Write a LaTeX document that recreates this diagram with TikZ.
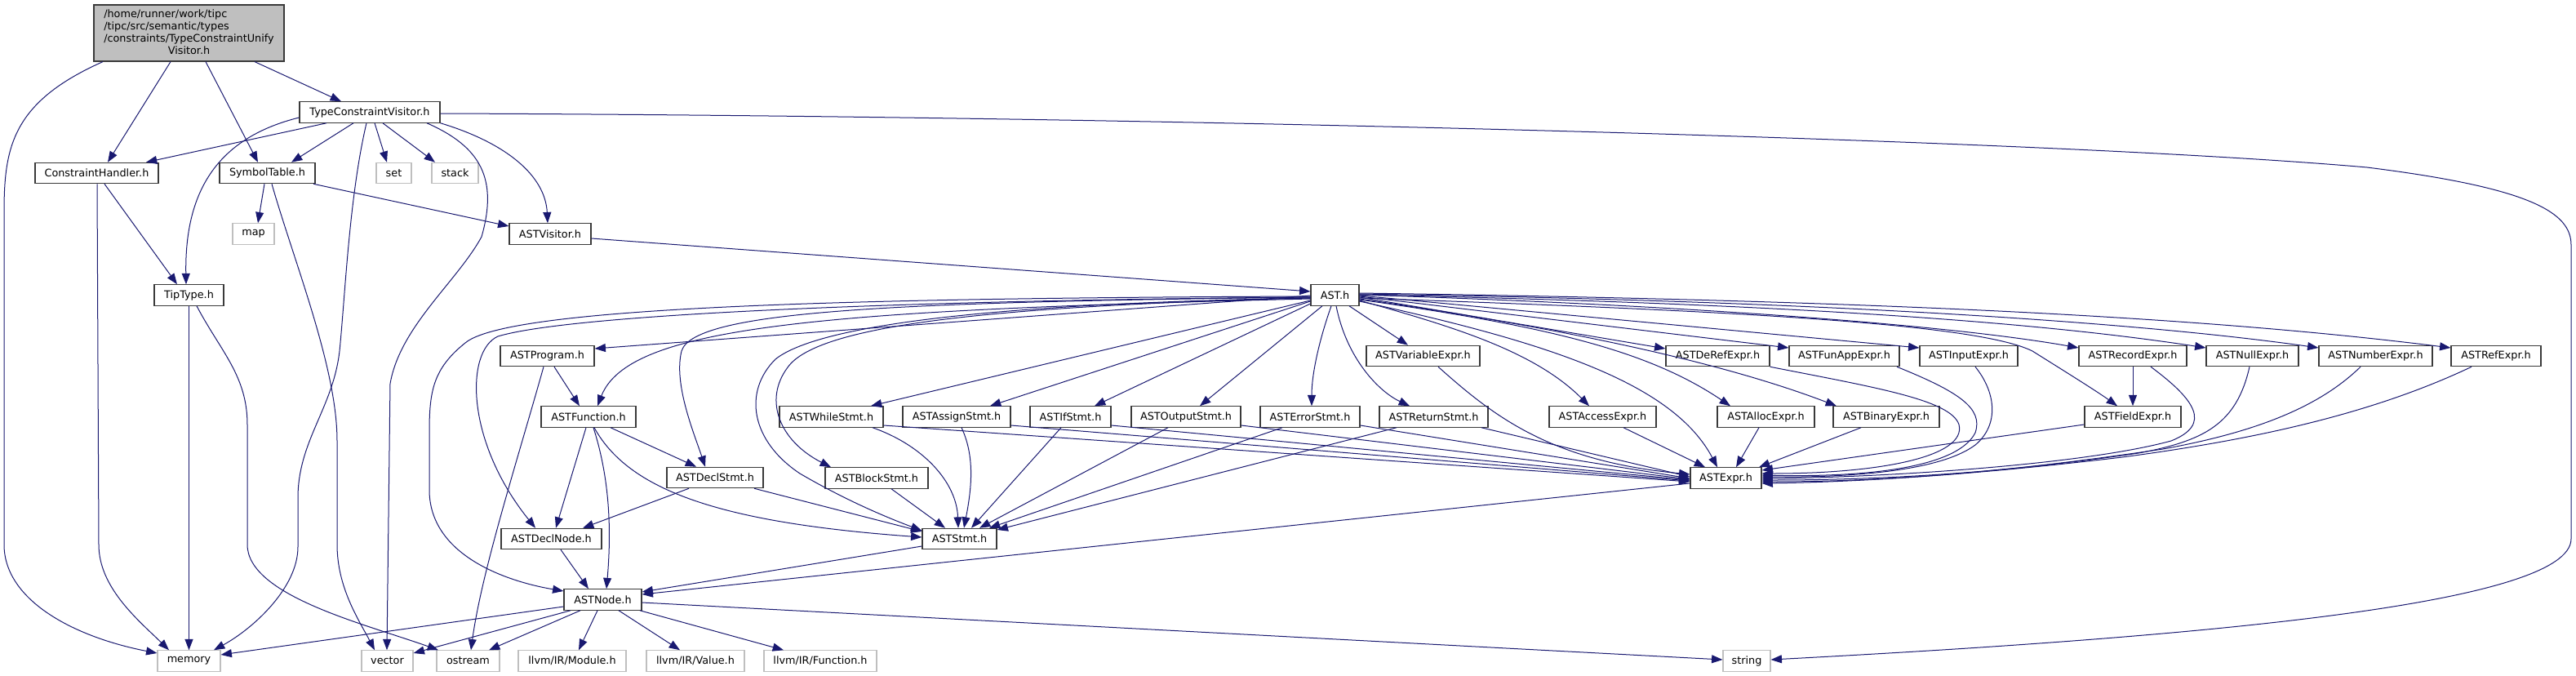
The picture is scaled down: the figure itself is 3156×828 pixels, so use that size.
\documentclass[tikz,border=0pt]{standalone}
\usepackage{fontspec}
\setmainfont{DejaVu Sans}
\usetikzlibrary{arrows.meta}
\definecolor{mb}{HTML}{191970}
\definecolor{lg}{HTML}{BFBFBF}
\definecolor{bd}{HTML}{3A3A3A}
\begin{document}
\begin{tikzpicture}[x=0.75pt,y=-0.75pt,
  nb/.style={draw=bd, line width=0.9pt, fill=white, inner sep=0pt, minimum height=19pt, font=\fontsize{9.6pt}{11.25pt}\selectfont},
  ext/.style={nb, draw=lg},
  e/.style={draw=mb, line width=0.75pt, -{Triangle[length=10pt,width=7.5pt]}}]
\useasboundingbox (0,0) rectangle (3156,828);
% nodes
\node[nb, fill=lg, minimum width=174.75pt, minimum height=51.75pt] (root) at (231.5,40.5)
  {\begin{tabular}{@{}l@{}}/home/runner/work/tipc\\/tipc/src/semantic/types\\/constraints/TypeConstraintUnify\\\multicolumn{1}{@{}c@{}}{Visitor.h}\end{tabular}};
\node[nb, minimum width=129pt] (TCV) at (453,137.5) {TypeConstraintVisitor.h};
\node[nb, minimum width=113.25pt] (CH) at (118.5,212) {ConstraintHandler.h};
\node[nb, minimum width=87.75pt] (ST) at (327.5,212) {SymbolTable.h};
\node[ext, minimum width=32.25pt] (set) at (482.5,212) {set};
\node[ext, minimum width=42.75pt] (stack) at (557.5,212) {stack};
\node[ext, minimum width=38.25pt] (map) at (310.5,286.5) {map};
\node[nb, minimum width=75pt] (ASTVisitor) at (674,286.5) {ASTVisitor.h};
\node[nb, minimum width=63.75pt] (TipType) at (231.5,361.5) {TipType.h};
\node[ext, minimum width=57.75pt] (memory) at (231.5,809.5) {memory};
\node[ext, minimum width=47.25pt] (vector) at (474.5,809.5) {vector};
\node[ext, minimum width=57.75pt] (ostream) at (573.5,809.5) {ostream};
\node[ext, minimum width=99pt] (Module) at (701,809.5) {llvm/IR/Module.h};
\node[ext, minimum width=90pt] (Value) at (852,809.5) {llvm/IR/Value.h};
\node[ext, minimum width=103.5pt] (LFunction) at (1005,809.5) {llvm/IR/Function.h};
\node[ext, minimum width=43.5pt] (string) at (2140,809.5) {string};
\node[nb, minimum width=44.25pt] (ASTh) at (1635.5,361.5) {AST.h};
\node[nb, minimum width=86.25pt] (ASTProgram) at (670.5,436) {ASTProgram.h};
\node[nb, minimum width=87pt] (ASTFunction) at (721,510.5) {ASTFunction.h};
\node[nb, minimum width=92.25pt] (ASTDeclNode) at (675.5,660) {ASTDeclNode.h};
\node[nb, minimum width=71.25pt] (ASTNode) at (738.5,734.5) {ASTNode.h};
\node[nb, minimum width=88.5pt] (ASTDeclStmt) at (876,585) {ASTDeclStmt.h};
\node[nb, minimum width=95.25pt] (ASTWhileStmt) at (1018.5,510.5) {ASTWhileStmt.h};
\node[nb, minimum width=94.5pt] (ASTBlockStmt) at (1074,585.5) {ASTBlockStmt.h};
\node[nb, minimum width=68.25pt] (ASTStmt) at (1175.5,660) {ASTStmt.h};
\node[nb, minimum width=99pt] (ASTAssignStmt) at (1172,510.5) {ASTAssignStmt.h};
\node[nb, minimum width=74.25pt] (ASTIfStmt) at (1311.5,510.5) {ASTIfStmt.h};
\node[nb, minimum width=100.5pt] (ASTOutputStmt) at (1453,510.5) {ASTOutputStmt.h};
\node[nb, minimum width=91.5pt] (ASTErrorStmt) at (1605,510.5) {ASTErrorStmt.h};
\node[nb, minimum width=99.75pt] (ASTReturnStmt) at (1756.5,510.5) {ASTReturnStmt.h};
\node[nb, minimum width=104.25pt] (ASTVariableExpr) at (1743.5,436) {ASTVariableExpr.h};
\node[nb, minimum width=98.25pt] (ASTAccessExpr) at (1963.5,510.5) {ASTAccessExpr.h};
\node[nb, minimum width=65.25pt] (ASTExpr) at (2114.5,585.5) {ASTExpr.h};
\node[nb, minimum width=89.25pt] (ASTAllocExpr) at (2163.5,510.5) {ASTAllocExpr.h};
\node[nb, minimum width=97.5pt] (ASTBinaryExpr) at (2311,510.5) {ASTBinaryExpr.h};
\node[nb, minimum width=95.25pt] (ASTDeRefExpr) at (2104.5,436) {ASTDeRefExpr.h};
\node[nb, minimum width=101.25pt] (ASTFunAppExpr) at (2259.5,436) {ASTFunAppExpr.h};
\node[nb, minimum width=90pt] (ASTInputExpr) at (2412,436) {ASTInputExpr.h};
\node[nb, minimum width=99pt] (ASTRecordExpr) at (2613,436) {ASTRecordExpr.h};
\node[nb, minimum width=88.5pt] (ASTFieldExpr) at (2613,510.5) {ASTFieldExpr.h};
\node[nb, minimum width=84.75pt] (ASTNullExpr) at (2759.5,436) {ASTNullExpr.h};
\node[nb, minimum width=104.25pt] (ASTNumberExpr) at (2910.5,436) {ASTNumberExpr.h};
\node[nb, minimum width=82.5pt] (ASTRefExpr) at (3058,436) {ASTRefExpr.h};
% root edges
\draw[e] (root.south -| 126,0) .. controls (15,125) and (5,180) .. (5,260) -- (5,667) .. controls (5,735) and (90,780) .. (memory.west |- 0,800);
\draw[e] (root.south -| 209,0) -- (CH.north -| 132,0);
\draw[e] (root.south -| 252,0) -- (ST.north -| 316,0);
\draw[e] (root.south -| 312,0) -- (TCV.north -| 418,0);
% TypeConstraintVisitor edges
\draw[e] (TCV.south -| 400,0) -- (CH.north -| 179,0);
\draw[e] (TCV.south -| 433,0) -- (ST.north -| 357,0);
\draw[e] (TCV.south -| 459,0) -- (set.north -| 474,0);
\draw[e] (TCV.south -| 469,0) -- (stack.north -| 533,0);
\draw[e] (TCV.west |- 0,144) .. controls (270,168) and (226,230) .. (TipType.north -| 228,0);
\draw[e] (TCV.south -| 449,0) .. controls (428,240) and (423,360) .. (416,430) .. controls (408,500) and (365,540) .. (365,610) -- (365,670) .. controls (365,720) and (310,770) .. (memory.north -| 262,0);
\draw[e] (TCV.south -| 523,0) .. controls (590,180) and (610,220) .. (590,290) .. controls (560,345) and (490,400) .. (478,470) -- (vector.north -| 474,0);
\draw[e] (TCV.south east) .. controls (620,175) and (668,215) .. (ASTVisitor.north -| 671,0);
\draw[e] (TCV.east |- 0,139) .. controls (1400,142) and (2500,170) .. (2900,205) .. controls (3100,230) and (3150,260) .. (3150,300) -- (3150,660) .. controls (3150,740) and (2700,780) .. (string.east |- 0,808);
% ConstraintHandler, SymbolTable, TipType, ASTVisitor
\draw[e] (CH.south -| 119,0) -- (121,667) .. controls (121,720) and (170,760) .. (memory.north -| 207,0);
\draw[e] (CH.south -| 128,0) -- (TipType.north -| 217,0);
\draw[e] (ST.south -| 324,0) -- (map.north -| 316,0);
\draw[e] (ST.south -| 384,0) -- (ASTVisitor.west |- 0,277);
\draw[e] (ST.south -| 333,0) .. controls (360,320) and (413,450) .. (413,540) -- (413,667) .. controls (413,720) and (440,760) .. (vector.north -| 459,0);
\draw[e] (TipType.south) -- (memory.north);
\draw[e] (TipType.south -| 241,0) .. controls (270,430) and (303,460) .. (303,520) -- (303,667) .. controls (303,730) and (450,765) .. (ostream.north -| 537,0);
\draw[e] (ASTVisitor.east |- 0,292) -- (ASTh.west |- 0,357);
% AST.h edges (left side)
\draw[e] (ASTh.west |- 0,362) -- (ASTProgram.east |- 0,427);
\draw[e] (ASTh.west |- 0,366) .. controls (1000,380) and (770,400) .. (ASTFunction.north -| 732,0);
\draw[e] (ASTh.west |- 0,364) .. controls (1100,368) and (700,385) .. (610,412) .. controls (570,430) and (570,540) .. (ASTDeclNode.north -| 656,0);
\draw[e] (ASTh.west |- 0,363) .. controls (1000,365) and (620,378) .. (570,420) .. controls (530,452) and (526,480) .. (526,530) -- (526,600) .. controls (526,680) and (620,712) .. (ASTNode.west |- 0,724);
\draw[e] (ASTh.west |- 0,364) .. controls (1100,370) and (850,380) .. (835,430) .. controls (825,470) and (850,530) .. (ASTDeclStmt.north -| 864,0);
\draw[e] (ASTh.west |- 0,365) .. controls (1200,372) and (1000,400) .. (950,440) .. controls (910,480) and (920,540) .. (980,580) .. controls (1040,615) and (1090,635) .. (ASTStmt.west |- 0,650);
\draw[e] (ASTh.west |- 0,365) .. controls (1200,375) and (1000,400) .. (965,450) .. controls (935,490) and (955,540) .. (ASTBlockStmt.north -| 1018,0);
\draw[e] (ASTh.west |- 0,368) -- (ASTWhileStmt.north -| 1067,0);
\draw[e] (ASTh.west |- 0,369) -- (ASTAssignStmt.north -| 1213,0);
\draw[e] (ASTh.west |- 0,372) -- (ASTIfStmt.north -| 1341,0);
% AST.h edges (bottom)
\draw[e] (ASTh.south -| 1620,0) -- (ASTOutputStmt.north -| 1470,0);
\draw[e] (ASTh.south -| 1631,0) .. controls (1615,420) and (1607,460) .. (ASTErrorStmt.north -| 1607,0);
\draw[e] (ASTh.south -| 1637,0) .. controls (1650,440) and (1690,480) .. (ASTReturnStmt.north -| 1727,0);
\draw[e] (ASTh.south -| 1653,0) -- (ASTVariableExpr.north -| 1725,0);
% AST.h edges (right side)
\draw[e] (ASTh.east |- 0,368) .. controls (1780,400) and (1880,430) .. (ASTAccessExpr.north -| 1947,0);
\draw[e] (ASTh.east |- 0,369) .. controls (1900,420) and (2050,470) .. (ASTExpr.north -| 2104,0);
\draw[e] (ASTh.east |- 0,367) .. controls (1900,400) and (2020,430) .. (ASTAllocExpr.north -| 2120,0);
\draw[e] (ASTh.east |- 0,366) .. controls (1900,400) and (2100,440) .. (ASTBinaryExpr.north -| 2250,0);
\draw[e] (ASTh.east |- 0,364) -- (ASTDeRefExpr.west |- 0,427);
\draw[e] (ASTh.east |- 0,363) -- (ASTFunAppExpr.west |- 0,426);
\draw[e] (ASTh.east |- 0,362) -- (ASTInputExpr.west |- 0,426);
\draw[e] (ASTh.east |- 0,361) .. controls (2100,375) and (2400,400) .. (ASTRecordExpr.west |- 0,426);
\draw[e] (ASTh.east |- 0,361) .. controls (2200,372) and (2500,395) .. (ASTNullExpr.west |- 0,426);
\draw[e] (ASTh.east |- 0,360) .. controls (2200,368) and (2600,392) .. (ASTNumberExpr.west |- 0,426);
\draw[e] (ASTh.east |- 0,359) .. controls (2300,368) and (2700,388) .. (ASTRefExpr.west |- 0,426);
\draw[e] (ASTh.east |- 0,365) .. controls (2100,380) and (2420,395) .. (2490,430) .. controls (2530,455) and (2570,480) .. (ASTFieldExpr.north -| 2594,0);
% expressions -> ASTExpr
\draw[e] (ASTVariableExpr.south -| 1762,0) .. controls (1830,510) and (1900,565) .. (ASTExpr.west |- 0,581);
\draw[e] (ASTAccessExpr.south -| 1989,0) -- (ASTExpr.north -| 2089,0);
\draw[e] (ASTAllocExpr.south -| 2155,0) -- (ASTExpr.north -| 2127,0);
\draw[e] (ASTBinaryExpr.south -| 2280,0) -- (ASTExpr.north -| 2155,0);
\draw[e] (ASTDeRefExpr.south east) .. controls (2300,475) and (2390,490) .. (2400,520) .. controls (2410,560) and (2300,580) .. (ASTExpr.east |- 0,580);
\draw[e] (ASTFunAppExpr.south -| 2324,0) .. controls (2400,480) and (2430,500) .. (2420,530) .. controls (2400,570) and (2300,585) .. (ASTExpr.east |- 0,582);
\draw[e] (ASTInputExpr.south -| 2420,0) .. controls (2445,480) and (2450,520) .. (2420,545) .. controls (2380,575) and (2280,585) .. (ASTExpr.east |- 0,584);
\draw[e] (ASTFieldExpr.west |- 0,520) -- (ASTExpr.east |- 0,576);
\draw[e] (ASTRecordExpr.south -| 2635,0) .. controls (2690,490) and (2710,520) .. (2660,540) .. controls (2550,570) and (2300,585) .. (ASTExpr.east |- 0,586);
\draw[e] (ASTNullExpr.south -| 2756,0) .. controls (2740,520) and (2700,540) .. (2620,555) .. controls (2450,580) and (2300,588) .. (ASTExpr.east |- 0,588);
\draw[e] (ASTNumberExpr.south -| 2892,0) .. controls (2840,500) and (2760,530) .. (2650,550) .. controls (2450,580) and (2300,590) .. (ASTExpr.east |- 0,590);
\draw[e] (ASTRefExpr.south -| 3028,0) .. controls (2900,510) and (2750,540) .. (2600,560) .. controls (2450,578) and (2300,590) .. (ASTExpr.east |- 0,592);
\draw[e] (ASTRecordExpr.south) -- (ASTFieldExpr.north);
% statements -> ASTExpr
\draw[e] (ASTWhileStmt.east |- 0,521) -- (ASTExpr.west |- 0,590);
\draw[e] (ASTAssignStmt.east |- 0,521) -- (ASTExpr.west |- 0,589);
\draw[e] (ASTIfStmt.east |- 0,521) -- (ASTExpr.west |- 0,588);
\draw[e] (ASTOutputStmt.east |- 0,521) -- (ASTExpr.west |- 0,587);
\draw[e] (ASTErrorStmt.east |- 0,521) -- (ASTExpr.west |- 0,586);
\draw[e] (ASTReturnStmt.south -| 1815,0) -- (ASTExpr.west |- 0,584);
% statements -> ASTStmt
\draw[e] (ASTWhileStmt.south -| 1069,0) .. controls (1130,545) and (1172,590) .. (ASTStmt.north -| 1174,0);
\draw[e] (ASTAssignStmt.south -| 1178,0) .. controls (1195,560) and (1190,600) .. (ASTStmt.north -| 1181,0);
\draw[e] (ASTIfStmt.south -| 1300,0) -- (ASTStmt.north -| 1190,0);
\draw[e] (ASTOutputStmt.south -| 1431,0) -- (ASTStmt.north -| 1200,0);
\draw[e] (ASTErrorStmt.south -| 1571,0) -- (ASTStmt.north -| 1212,0);
\draw[e] (ASTReturnStmt.south -| 1711,0) -- (ASTStmt.east |- 0,649);
\draw[e] (ASTBlockStmt.south -| 1092,0) -- (ASTStmt.north -| 1158,0);
\draw[e] (ASTDeclStmt.south -| 924,0) -- (ASTStmt.west |- 0,651);
\draw[e] (ASTFunction.south -| 728,0) .. controls (770,600) and (880,640) .. (ASTStmt.west |- 0,658);
% function / program / decl
\draw[e] (ASTFunction.south -| 748,0) -- (ASTDeclStmt.north -| 853,0);
\draw[e] (ASTFunction.south -| 718,0) -- (ASTDeclNode.north -| 681,0);
\draw[e] (ASTFunction.south -| 727,0) .. controls (745,580) and (750,640) .. (ASTNode.north -| 743,0);
\draw[e] (ASTProgram.south -| 679,0) -- (ASTFunction.north -| 710,0);
\draw[e] (ASTProgram.south -| 666,0) .. controls (635,560) and (590,700) .. (ostream.north -| 577,0);
\draw[e] (ASTDeclStmt.south -| 844,0) -- (ASTDeclNode.north -| 714,0);
\draw[e] (ASTDeclNode.south -| 687,0) -- (ASTNode.north -| 721,0);
\draw[e] (ASTStmt.west |- 0,669) -- (ASTNode.east |- 0,725);
\draw[e] (ASTExpr.west |- 0,592) -- (ASTNode.east |- 0,728);
% ASTNode outgoing
\draw[e] (ASTNode.west |- 0,743) -- (memory.east |- 0,802);
\draw[e] (ASTNode.south -| 699,0) -- (vector.east |- 0,800);
\draw[e] (ASTNode.south -| 711,0) -- (ostream.north -| 599,0);
\draw[e] (ASTNode.south -| 732,0) -- (Module.north -| 709,0);
\draw[e] (ASTNode.south -| 758,0) -- (Value.north -| 833,0);
\draw[e] (ASTNode.south -| 784,0) -- (LFunction.north -| 960,0);
\draw[e] (ASTNode.east |- 0,738) -- (string.west |- 0,808);
\end{tikzpicture}
\end{document}
